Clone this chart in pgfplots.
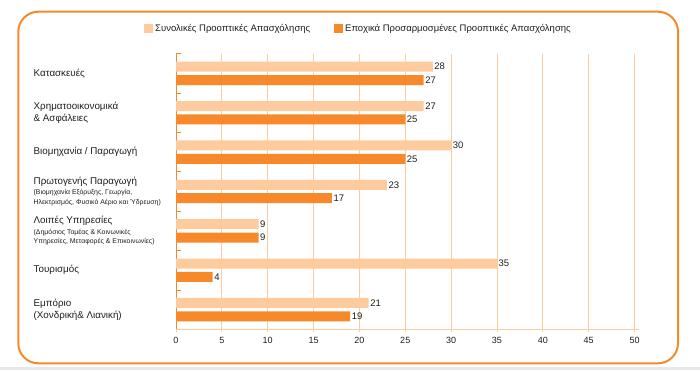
\documentclass[border=0pt]{standalone}
\usepackage{fontspec}
\setmainfont{Liberation Sans}
\usepackage{pgfplots}
\pgfplotsset{compat=1.18}
\pgfplotsset{/pgf/number format/assume math mode=true}
\definecolor{lightor}{HTML}{FDCB9D}
\definecolor{darkor}{HTML}{F7892B}
\definecolor{gridor}{HTML}{FCCB9F}
\definecolor{txt}{HTML}{1E1E1E}
\newcommand{\mainf}{\fontsize{9.5}{12}\selectfont}
\newcommand{\labf}{\fontsize{9.8}{12.5}\selectfont}
\newcommand{\subf}{\fontsize{6.9}{9}\selectfont}
\begin{document}
\begin{tikzpicture}
\useasboundingbox (0pt,0pt) rectangle (700pt,370pt);
\fill[black!9] (0pt,0pt) rectangle (700pt,3pt);
\draw[darkor, line width=2pt, rounded corners=20pt] (18.3pt,6.7pt) rectangle (678pt,358.3pt);
\begin{axis}[
  at={(176pt,40.7pt)}, anchor=south west,
  scale only axis, width=458.5pt, height=275.6pt,
  xmin=0, xmax=50, ymin=-0.5, ymax=6.5,
  xbar, bar width=10pt,
  axis x line*=bottom, axis y line*=left,
  x axis line style={gridor, line width=0.8pt, shorten >=-4.5pt},
  y axis line style={darkor, line width=1pt},
  xtick={0,5,...,50},
  xmajorgrids, grid style={gridor, line width=0.8pt},
  tick align=outside, major tick length=3pt,
  xtick style={gridor, line width=0.8pt},
  ytick={0,...,6},
  ytick style={draw=none},
  extra y ticks={0.5,1.5,2.5,3.5,4.5,5.5,6.5},
  extra y tick labels={},
  extra y tick style={tick align=inside, major tick length=4.5pt, ytick style={draw=darkor, line width=0.8pt}},
  xticklabel style={font=\fontsize{9}{10}\selectfont, text=txt, yshift=-1pt},
  yticklabel style={anchor=west, align=left, inner sep=0pt, xshift=-139.5pt, font=\labf, text=txt},
  yticklabels={
    {Εμπόριο\\(Χονδρική\& Λιανική)},
    {Τουρισμός},
    {Λοιπές Υπηρεσίες\\[-2pt]\subf (Δημόσιος Τομέας \& Κοινωνικές\\[-3pt]\subf Υπηρεσίες, Μεταφορές \& Επικοινωνίες)},
    {Πρωτογενής Παραγωγή\\[-2pt]\subf (Βιομηχανία Εξόρυξης, Γεωργία,\\[-3pt]\subf Ηλεκτρισμός, Φυσικό Αέριο και Ύδρευση)},
    {Βιομηχανία / Παραγωγή},
    {Χρηματοοικονομικά\\\& Ασφάλειες},
    {Κατασκευές}
  },
  nodes near coords,
  every node near coord/.append style={font=\mainf, text=txt, inner sep=1.5pt, anchor=west},
  legend columns=2,
  legend style={at={(0.398,1.092)}, anchor=center, draw=none, fill=none,
    font=\mainf, text=txt,
    /tikz/every even column/.append style={column sep=22pt}},
]
\addplot[fill=lightor, draw=none, bar shift=6.7pt,
  legend image code/.code={\fill[lightor] (0pt,-4.3pt) rectangle (9pt,4.3pt);}]
  coordinates {(21,0) (35,1) (9,2) (23,3) (30,4) (27,5) (28,6)};
\addlegendentry{Συνολικές Προοπτικές Απασχόλησης}
\addplot[fill=darkor, draw=none, bar shift=-6.7pt,
  legend image code/.code={\fill[darkor] (0pt,-4.3pt) rectangle (9pt,4.3pt);}]
  coordinates {(19,0) (4,1) (9,2) (17,3) (25,4) (25,5) (27,6)};
\addlegendentry{Εποχικά Προσαρμοσμένες Προοπτικές Απασχόλησης}
\end{axis}
\end{tikzpicture}
\end{document}
